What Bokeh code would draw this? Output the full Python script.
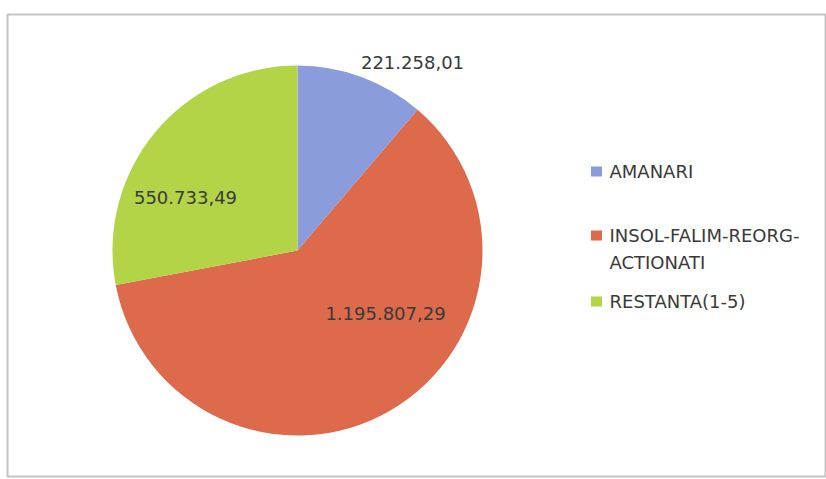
import math
from bokeh.plotting import figure
from bokeh.models import Range1d, ColumnDataSource
from bokeh.core.properties import value
from bokeh.embed import file_html
from bokeh.resources import INLINE

# ---- data ----
categories = ["AMANARI", "INSOL-FALIM-REORG-\nACTIONATI", "RESTANTA(1-5)"]
amounts = [221258.01, 1195807.29, 550733.49]
colors = ["#8A9CDB", "#DC6A4B", "#B2D446"]

# ---- layout (styling only) ----
cx, cy, R = 297, 229, 185
label_offsets = [(115, 188), (88, -63), (-112, 53)]
legend_x = 596
legend_y = [308, 244, 178]
line_gap = 27
FONT = "DejaVu Sans"
FONT_SIZE = "18px"
TEXT_COLOR = "#3A3A3A"

def ro_fmt(v):
    s = f"{v:,.2f}"
    return s.replace(",", " ").replace(".", ",").replace(" ", ".")

total = sum(amounts)
starts, ends = [], []
cum = 0.0
for a in amounts:
    s = math.pi / 2 - cum / total * 2 * math.pi
    cum += a
    e = math.pi / 2 - cum / total * 2 * math.pi
    starts.append(s)
    ends.append(e)

p = figure(width=826, height=479, output_backend="svg", toolbar_location=None,
           x_range=Range1d(7, 826), y_range=Range1d(3, 465),
           min_border_left=7, min_border_right=0, min_border_top=14, min_border_bottom=3)
p.axis.visible = False
p.grid.visible = False
p.outline_line_color = "#C4C4C4"
p.outline_line_width = 2
p.background_fill_color = "white"
p.border_fill_color = "white"

src = ColumnDataSource(dict(start=starts, end=ends, color=colors))
p.wedge(x=cx, y=cy, radius=R, start_angle="start", end_angle="end",
        direction="clock", fill_color="color", line_color=None, source=src)

lab = ColumnDataSource(dict(
    x=[cx + dx for dx, dy in label_offsets],
    y=[cy + dy for dx, dy in label_offsets],
    t=[ro_fmt(v) for v in amounts]))
p.text(x="x", y="y", text="t", source=lab, text_align="center", text_baseline="middle",
       text_font=value(FONT), text_font_size=FONT_SIZE, text_color=TEXT_COLOR)

# legend
p.rect(x=[legend_x] * 3, y=legend_y, width=11, height=10, fill_color=colors, line_color=None)
lx, ly, lt = [], [], []
for name, y0 in zip(categories, legend_y):
    for i, line in enumerate(name.split("\n")):
        lx.append(legend_x + 13)
        ly.append(y0 - line_gap * i)
        lt.append(line)
p.text(x=lx, y=ly, text=lt, text_align="left", text_baseline="middle",
       text_font=value(FONT), text_font_size=FONT_SIZE, text_color=TEXT_COLOR)

open("out.html", "w").write(file_html(p, INLINE))
